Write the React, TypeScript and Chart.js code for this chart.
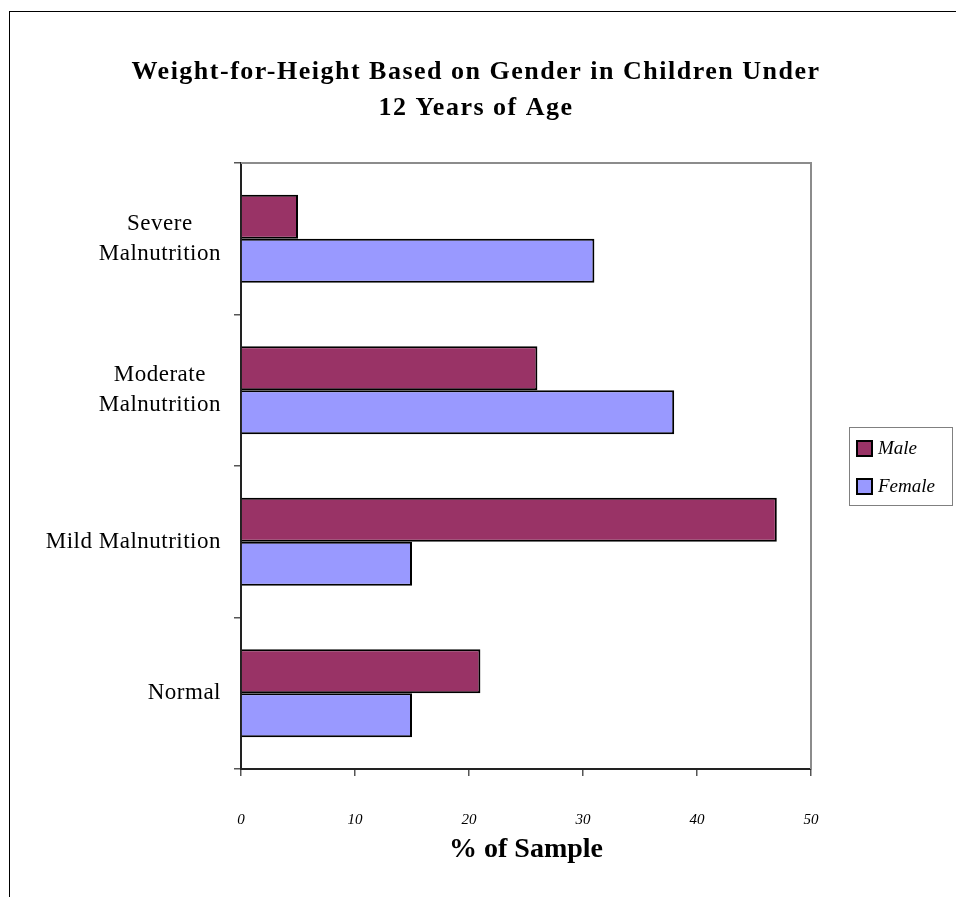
import React, { useEffect, useRef } from 'react';
import { Chart, registerables } from 'chart.js';

Chart.register(...registerables);

const categories: (string | string[])[] = [
  ['Severe', 'Malnutrition'],
  ['Moderate', 'Malnutrition'],
  'Mild Malnutrition',
  'Normal',
];
const seriesNames = ['Male', 'Female'];
const maleValues = [5, 26, 47, 21];
const femaleValues = [31, 38, 15, 15];
const xTicks = [0, 10, 20, 30, 40, 50];
const titleLines = ['Weight-for-Height Based on Gender in Children Under', '12 Years of Age'];
const xAxisTitle = '% of Sample';

const MALE_COLOR = '#993366';
const FEMALE_COLOR = '#9999FF';
const SERIF = '"Liberation Serif", "Times New Roman", serif';

const decorPlugin = {
  id: 'decor',
  beforeDraw(chart: any) {
    const ctx = chart.ctx;
    ctx.save();
    ctx.fillStyle = '#ffffff';
    ctx.fillRect(0, 0, chart.width, chart.height);
    // outer frame (top and left edge)
    ctx.fillStyle = '#000000';
    ctx.fillRect(9, 11, chart.width - 9, 1);
    ctx.fillRect(9, 11, 1, chart.height - 11);
    ctx.restore();
  },
  afterDraw(chart: any) {
    const ctx = chart.ctx;
    const area = chart.chartArea;
    ctx.save();

    // plot area top/right border
    ctx.strokeStyle = '#8c8c8c';
    ctx.lineWidth = 2;
    ctx.beginPath();
    ctx.moveTo(area.left, area.top);
    ctx.lineTo(area.right, area.top);
    ctx.lineTo(area.right, area.bottom);
    ctx.stroke();

    // title
    ctx.fillStyle = '#000000';
    ctx.font = `bold 26px ${SERIF}`;
    (ctx as any).letterSpacing = '1.5px';
    ctx.textAlign = 'center';
    ctx.textBaseline = 'middle';
    const cx = chart.width / 2 - 2;
    titleLines.forEach((line, i) => {
      ctx.fillText(line, cx, 72 + i * 36);
    });

    // y category labels: block right-aligned, lines centered within block
    const yScale = chart.scales.y;
    ctx.font = `23px ${SERIF}`;
    (ctx as any).letterSpacing = '0.5px';
    ctx.textBaseline = 'middle';
    ctx.textAlign = 'center';
    chart.data.labels.forEach((lab: any, i: number) => {
      const lines: string[] = Array.isArray(lab) ? lab : [lab];
      const w = Math.max(...lines.map((l) => ctx.measureText(l).width));
      const x = area.left - 20 - w / 2;
      const yc = yScale.getPixelForTick(i);
      lines.forEach((l, j) => {
        ctx.fillText(l, x, yc + (j - (lines.length - 1) / 2) * 30);
      });
    });
    (ctx as any).letterSpacing = '0px';

    // x axis title
    ctx.font = `bold 28px ${SERIF}`;
    ctx.textAlign = 'center';
    ctx.fillText(xAxisTitle, (area.left + area.right) / 2, 850);

    // legend
    const lx = area.right + 38;
    const lw = 103;
    const lh = 78;
    const ly = (area.top + area.bottom) / 2 - lh / 2;
    ctx.fillStyle = '#ffffff';
    ctx.fillRect(lx, ly, lw, lh);
    ctx.strokeStyle = '#808080';
    ctx.lineWidth = 1;
    ctx.strokeRect(lx + 0.5, ly + 0.5, lw, lh);
    chart.data.datasets.forEach((ds: any, i: number) => {
      const sy = ly + 14 + i * 38;
      ctx.fillStyle = ds.backgroundColor;
      ctx.fillRect(lx + 8, sy, 15, 15);
      ctx.strokeStyle = '#000000';
      ctx.lineWidth = 2;
      ctx.strokeRect(lx + 8, sy, 15, 15);
      ctx.fillStyle = '#000000';
      ctx.font = `italic 19px ${SERIF}`;
      ctx.textAlign = 'left';
      ctx.textBaseline = 'middle';
      ctx.fillText(ds.label, lx + 29, sy + 8);
    });

    ctx.restore();
  },
};

export default function App() {
  const ref = useRef<HTMLCanvasElement>(null);
  useEffect(() => {
    const chart = new Chart(ref.current as HTMLCanvasElement, {
      type: 'bar',
      data: {
        labels: categories as any,
        datasets: [
          {
            label: seriesNames[0],
            data: maleValues,
            backgroundColor: MALE_COLOR,
            borderColor: '#000000',
            borderWidth: 2,
            barPercentage: 1,
            categoryPercentage: 0.58,
          },
          {
            label: seriesNames[1],
            data: femaleValues,
            backgroundColor: FEMALE_COLOR,
            borderColor: '#000000',
            borderWidth: 2,
            barPercentage: 1,
            categoryPercentage: 0.58,
          },
        ],
      },
      options: {
        indexAxis: 'y',
        animation: false,
        responsive: true,
        maintainAspectRatio: false,
        layout: { padding: { top: 163, right: 145, bottom: 0, left: 0 } },
        plugins: {
          legend: { display: false },
          title: { display: false },
          tooltip: { enabled: false },
        },
        scales: {
          x: {
            type: 'linear',
            min: 0,
            max: 50,
            afterBuildTicks: (scale: any) => {
              scale.ticks = xTicks.map((v) => ({ value: v }));
            },
            afterFit: (scale: any) => {
              scale.height = 128;
            },
            ticks: {
              color: '#000000',
              padding: 35,
              font: { family: SERIF, size: 15, style: 'italic' },
              callback: (v: any) => String(v),
            },
            grid: {
              drawOnChartArea: false,
              drawTicks: true,
              tickLength: 7,
              color: '#555555',
              lineWidth: 1.5,
            },
            border: { display: true, color: '#222222', width: 2 },
          },
          y: {
            type: 'category',
            offset: true,
            afterFit: (scale: any) => {
              scale.width = 241;
            },
            ticks: { display: false },
            grid: {
              offset: true,
              drawOnChartArea: false,
              drawTicks: true,
              tickLength: 7,
              color: '#555555',
              lineWidth: 1.5,
            },
            border: { display: true, color: '#222222', width: 2 },
          },
        },
      },
      plugins: [decorPlugin],
    } as any);
    return () => chart.destroy();
  }, []);
  return (
    <div style={{ position: 'absolute', left: 0, top: 0, width: 956, height: 897 }}>
      <canvas ref={ref} />
    </div>
  );
}
